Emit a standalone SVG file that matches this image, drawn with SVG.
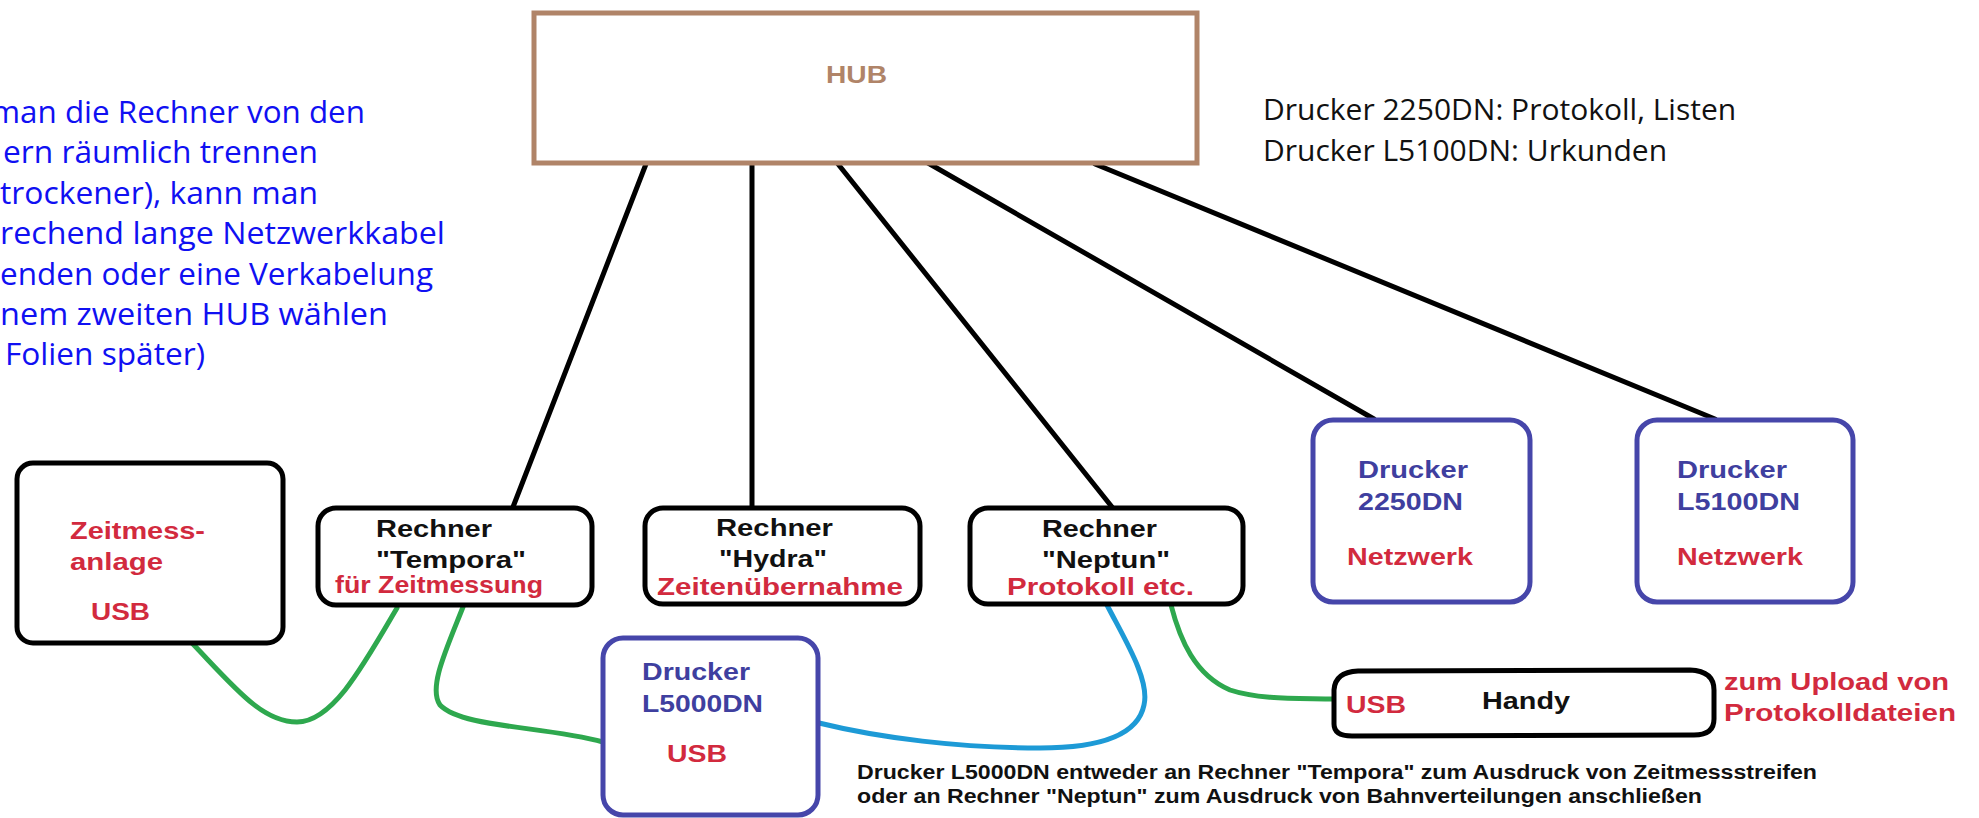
<svg xmlns="http://www.w3.org/2000/svg" width="1979" height="818" viewBox="0 0 1979 818">
<style>
.bg{fill:#ffffff}
.box{fill:#ffffff;stroke:#000000;stroke-width:5}
.pbox{fill:#ffffff;stroke:#4646aa;stroke-width:5}
.hub{fill:#ffffff;stroke:#b08468;stroke-width:5}
.net{fill:none;stroke:#000000;stroke-width:5;stroke-linecap:round}
.usb{fill:none;stroke:#2ea84e;stroke-width:5;stroke-linecap:round}
.usb2{fill:none;stroke:#1d9ad6;stroke-width:5;stroke-linecap:round}
.b{font-family:"Liberation Sans",Arial,sans-serif;font-weight:bold;font-size:24.5px}
.k{fill:#111111}
.r{fill:#d22a3e}
.p{fill:#3f3f9f}
.note{font-family:"Open Sans","Liberation Sans",sans-serif;font-size:31px;fill:#1010f2}
.info{font-family:"Open Sans","Liberation Sans",sans-serif;font-size:30px;fill:#111111}
.foot{font-family:"Liberation Sans",Arial,sans-serif;font-weight:bold;font-size:20px;fill:#111111}
</style>
<rect class="bg" x="0" y="0" width="1979" height="818"/>

<g id="connectors">
<line class="net" x1="646" y1="164" x2="513" y2="507"/>
<line class="net" x1="752" y1="164" x2="752" y2="507"/>
<line class="net" x1="838" y1="164" x2="1112" y2="507"/>
<line class="net" x1="928" y1="163" x2="1374" y2="419"/>
<line class="net" x1="1095" y1="164" x2="1715" y2="419"/>
<path class="usb" d="M192,643 C235,688 262,722 297,722 C332,722 362,668 397,608"/>
<path class="usb" d="M463,607 C446,650 428,688 440,705 C462,728 545,726 603,742"/>
<path class="usb2" d="M1107,605 C1125,640 1150,680 1144,705 C1138,735 1100,748 1040,748 C960,748 880,738 819,723"/>
<path class="usb" d="M1171,605 C1180,640 1195,675 1230,690 C1260,700 1300,698 1334,699"/>
</g>

<g id="hub">
<rect class="hub" x="534" y="13" width="663" height="150"/>
<text class="b" x="826" y="83" fill="#b08468" textLength="61" lengthAdjust="spacingAndGlyphs">HUB</text>
</g>

<g id="note">
<text class="note" x="-9" y="123" textLength="374" lengthAdjust="spacingAndGlyphs">man die Rechner von den</text>
<text class="note" x="3" y="163" textLength="315" lengthAdjust="spacingAndGlyphs">ern räumlich trennen</text>
<text class="note" x="0" y="204" textLength="318" lengthAdjust="spacingAndGlyphs">trockener), kann man</text>
<text class="note" x="0" y="244" textLength="445" lengthAdjust="spacingAndGlyphs">rechend lange Netzwerkkabel</text>
<text class="note" x="0" y="285" textLength="433" lengthAdjust="spacingAndGlyphs">enden oder eine Verkabelung</text>
<text class="note" x="0" y="325" textLength="388" lengthAdjust="spacingAndGlyphs">nem zweiten HUB wählen</text>
<text class="note" x="5" y="365" textLength="200" lengthAdjust="spacingAndGlyphs">Folien später)</text>
</g>

<g id="info">
<text class="info" x="1263" y="120">Drucker 2250DN: Protokoll, Listen</text>
<text class="info" x="1263" y="161">Drucker L5100DN: Urkunden</text>
</g>

<g id="zeitmessanlage">
<rect class="box" x="17" y="463" width="266" height="180" rx="16"/>
<text class="b r" x="70" y="539" textLength="135" lengthAdjust="spacingAndGlyphs">Zeitmess-</text>
<text class="b r" x="70" y="570" textLength="93" lengthAdjust="spacingAndGlyphs">anlage</text>
<text class="b r" x="91" y="620" textLength="59" lengthAdjust="spacingAndGlyphs">USB</text>
</g>

<g id="tempora">
<rect class="box" x="318" y="508" width="274" height="97" rx="18"/>
<text class="b k" x="376" y="537" textLength="116" lengthAdjust="spacingAndGlyphs">Rechner</text>
<text class="b k" x="376" y="568" textLength="150" lengthAdjust="spacingAndGlyphs">"Tempora"</text>
<text class="b r" x="335" y="593" textLength="208" lengthAdjust="spacingAndGlyphs">für Zeitmessung</text>
</g>

<g id="hydra">
<rect class="box" x="645" y="508" width="275" height="96" rx="18"/>
<text class="b k" x="716" y="536" textLength="117" lengthAdjust="spacingAndGlyphs">Rechner</text>
<text class="b k" x="719" y="567" textLength="108" lengthAdjust="spacingAndGlyphs">"Hydra"</text>
<text class="b r" x="657" y="595" textLength="246" lengthAdjust="spacingAndGlyphs">Zeitenübernahme</text>
</g>

<g id="neptun">
<rect class="box" x="970" y="508" width="273" height="96" rx="18"/>
<text class="b k" x="1042" y="537" textLength="115" lengthAdjust="spacingAndGlyphs">Rechner</text>
<text class="b k" x="1042" y="568" textLength="128" lengthAdjust="spacingAndGlyphs">"Neptun"</text>
<text class="b r" x="1007" y="595" textLength="187" lengthAdjust="spacingAndGlyphs">Protokoll etc.</text>
</g>

<g id="drucker2250">
<rect class="pbox" x="1313" y="420" width="217" height="182" rx="20"/>
<text class="b p" x="1358" y="478" textLength="110" lengthAdjust="spacingAndGlyphs">Drucker</text>
<text class="b p" x="1358" y="510" textLength="105" lengthAdjust="spacingAndGlyphs">2250DN</text>
<text class="b r" x="1347" y="565" textLength="126" lengthAdjust="spacingAndGlyphs">Netzwerk</text>
</g>

<g id="drucker5100">
<rect class="pbox" x="1637" y="420" width="216" height="182" rx="20"/>
<text class="b p" x="1677" y="478" textLength="110" lengthAdjust="spacingAndGlyphs">Drucker</text>
<text class="b p" x="1677" y="510" textLength="123" lengthAdjust="spacingAndGlyphs">L5100DN</text>
<text class="b r" x="1677" y="565" textLength="126" lengthAdjust="spacingAndGlyphs">Netzwerk</text>
</g>

<g id="drucker5000">
<rect class="pbox" x="603" y="638" width="215" height="177" rx="20"/>
<text class="b p" x="642" y="680" textLength="108" lengthAdjust="spacingAndGlyphs">Drucker</text>
<text class="b p" x="642" y="712" textLength="121" lengthAdjust="spacingAndGlyphs">L5000DN</text>
<text class="b r" x="667" y="762" textLength="60" lengthAdjust="spacingAndGlyphs">USB</text>
</g>

<g id="handy">
<path class="box" d="M1334,724 L1334,690 Q1335,672 1358,671 L1690,670 Q1714,671 1714,690 L1714,719 Q1714,735 1694,735 L1352,736 Q1334,736 1334,724 Z"/>
<text class="b r" x="1346" y="713" textLength="60" lengthAdjust="spacingAndGlyphs">USB</text>
<text class="b k" x="1482" y="709" textLength="88" lengthAdjust="spacingAndGlyphs">Handy</text>
</g>

<g id="upload">
<text class="b r" x="1724" y="690" textLength="225" lengthAdjust="spacingAndGlyphs">zum Upload von</text>
<text class="b r" x="1724" y="721" textLength="232" lengthAdjust="spacingAndGlyphs">Protokolldateien</text>
</g>

<g id="footnote">
<text class="foot" x="857" y="779" textLength="960" lengthAdjust="spacingAndGlyphs">Drucker L5000DN entweder an Rechner "Tempora" zum Ausdruck von Zeitmessstreifen</text>
<text class="foot" x="857" y="803" textLength="845" lengthAdjust="spacingAndGlyphs">oder an Rechner "Neptun" zum Ausdruck von Bahnverteilungen anschließen</text>
</g>
</svg>
